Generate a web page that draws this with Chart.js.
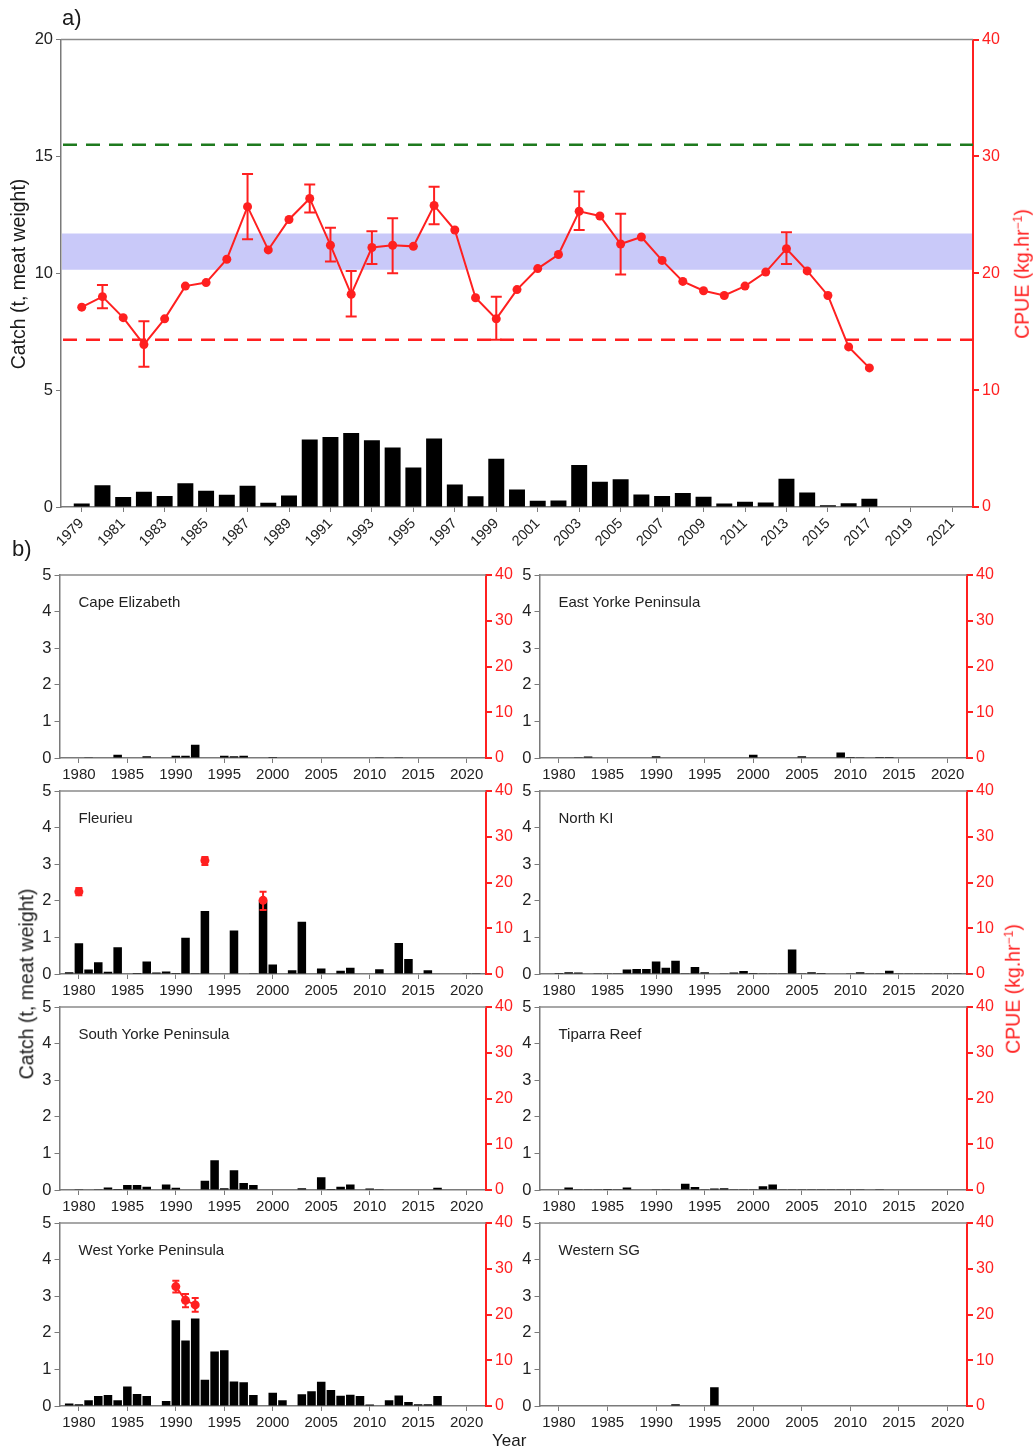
<!DOCTYPE html>
<html><head><meta charset="utf-8">
<script src="https://cdn.jsdelivr.net/npm/chart.js@4/dist/chart.umd.min.js"></script>
<style>
body{margin:0;background:#fff;width:1035px;height:1450px;position:relative;overflow:hidden;font-family:"Liberation Sans",Arial,sans-serif;}
canvas{position:absolute;}
.t{position:absolute;white-space:nowrap;color:#1a1a1a;line-height:1;}
.rot{transform:translate(-50%,-50%) rotate(-90deg);}
.red{color:#ff2020;}
.pt{position:absolute;white-space:nowrap;color:#222;font-size:15px;line-height:1;transform:translateY(-50%);}
</style></head><body>

<canvas id="top" width="1035" height="560" style="left:0;top:0"></canvas>
<canvas id="p0" width="520" height="228"></canvas>
<canvas id="p1" width="535" height="228"></canvas>
<canvas id="p2" width="520" height="228"></canvas>
<canvas id="p3" width="535" height="228"></canvas>
<canvas id="p4" width="520" height="228"></canvas>
<canvas id="p5" width="535" height="228"></canvas>
<canvas id="p6" width="520" height="228"></canvas>
<canvas id="p7" width="535" height="228"></canvas>

<div class="t" style="left:62px;top:7px;font-size:22px;">a)</div>
<div class="t" style="left:12px;top:538px;font-size:22px;">b)</div>
<div class="t rot" style="left:19px;top:274px;font-size:19.5px;">Catch (t, meat weight)</div>
<div class="t rot red" style="left:1022px;top:274px;font-size:19.5px;">CPUE (kg.hr<sup style="font-size:12px;vertical-align:7px">−1</sup>)</div>
<div class="t rot" style="left:27px;top:984px;font-size:19.5px;">Catch (t, meat weight)</div>
<div class="t rot red" style="left:1013px;top:989px;font-size:19.5px;">CPUE (kg.hr<sup style="font-size:12px;vertical-align:7px">−1</sup>)</div>
<div class="t" style="left:492px;top:1432px;font-size:17px;">Year</div>

<script>
// ---------------- DATA ----------------
const years = [];
for (let y = 1979; y <= 2021; y++) years.push(y);

const topTickYears = [1979,1981,1983,1985,1987,1989,1991,1993,1995,1997,1999,2001,2003,2005,2007,2009,2011,2013,2015,2017,2019,2021];
const panelTickYears = [1980,1985,1990,1995,2000,2005,2010,2015,2020];

// Total catch (t, meat weight), 1979-2021
const totalCatch = [
  0.15,0.93,0.43,0.65,0.47,1.02,0.69,0.52,0.91,0.18,
  0.49,2.89,3.00,3.17,2.86,2.55,1.69,2.93,0.96,0.46,
  2.06,0.75,0.27,0.28,1.80,1.08,1.19,0.53,0.47,0.60,
  0.44,0.15,0.22,0.19,1.21,0.62,0.07,0.16,0.35,0.02,
  0.02,0.02,0.02];
// Total CPUE (kg/hr), 1979-2021
const totalCpue = [
  17.1,18.0,16.2,13.9,16.1,18.9,19.2,21.2,25.7,22.0,
  24.6,26.4,22.4,18.2,22.2,22.4,22.3,25.8,23.7,17.9,
  16.1,18.6,20.4,21.6,25.3,24.9,22.5,23.1,21.1,19.3,
  18.5,18.1,18.9,20.1,22.1,20.2,18.1,13.7,11.9,null,
  null,null,null];
const totalCpueLo = [
  null,17.0,null,12.0,null,null,null,null,22.9,null,
  null,25.2,21.0,16.3,20.8,20.0,null,24.2,null,null,
  14.3,null,null,null,23.7,null,19.9,null,null,null,
  null,null,null,null,20.8,null,null,null,null,null,
  null,null,null];
const totalCpueHi = [
  null,19.0,null,15.9,null,null,null,null,28.5,null,
  null,27.6,23.9,20.2,23.6,24.7,null,27.4,null,null,
  18.0,null,null,null,27.0,null,25.1,null,null,null,
  null,null,null,null,23.5,null,null,null,null,null,
  null,null,null];

// Reference points (CPUE, kg/hr)
const targetRef = 31.0;
const limitRef = 14.3;
const bandLow = 20.3;
const bandHigh = 23.4;

// Regional catch, 1979-2021
const capeElizabethCatch = [
  0,0,0.01,0,0,0.09,0,0,0.05,0,
  0,0.06,0.06,0.36,0,0,0.06,0.05,0.06,0,
  0,0.03,0,0,0,0,0,0,0,0,
  0,0,0.02,0,0.01,0,0,0,0,0,
  0,0,0];
const eastYorkeCatch = [
  0,0,0,0.01,0.04,0,0,0,0,0,
  0,0.05,0,0,0,0,0,0,0,0,
  0,0.09,0,0,0,0,0.05,0,0,0,
  0.15,0.03,0.02,0,0.03,0.03,0,0,0,0,
  0,0,0];
const fleurieuCatch = [
  0.05,0.84,0.12,0.32,0.06,0.73,0,0.03,0.34,0.04,
  0.07,0.03,0.99,0.02,1.72,0,0,1.19,0,0.01,
  1.99,0.26,0,0.10,1.43,0,0.15,0,0.09,0.17,
  0,0,0.13,0,0.85,0.41,0,0.10,0,0,
  0,0.01,0.01];
const northKICatch = [
  0,0.03,0.05,0.04,0,0.02,0.02,0.02,0.12,0.14,
  0.14,0.34,0.17,0.36,0.02,0.19,0.05,0,0.02,0.04,
  0.08,0.03,0.01,0.01,0.01,0.67,0.01,0.05,0.03,0,
  0,0.02,0.05,0.02,0.01,0.09,0.01,0.01,0.01,0.01,
  0.01,0.01,0.01];
const southYorkeCatch = [
  0,0.02,0,0.01,0.07,0.03,0.14,0.14,0.09,0,
  0.15,0.06,0,0,0.25,0.81,0.05,0.54,0.19,0.14,
  0,0,0,0,0.05,0,0.35,0.03,0.09,0.15,
  0,0.04,0.02,0,0,0,0,0,0.06,0,
  0,0,0];
const tiparraCatch = [
  0,0,0.07,0.02,0.02,0.02,0.03,0.02,0.07,0,
  0,0.02,0.02,0,0.17,0.08,0.01,0.04,0.05,0.02,
  0.02,0.01,0.10,0.15,0.02,0.02,0.02,0.02,0.01,0.01,
  0.01,0.01,0.02,0,0.02,0,0,0,0,0,
  0,0,0];
const westYorkeCatch = [
  0.07,0.05,0.16,0.27,0.30,0.16,0.53,0.33,0.27,0,
  0.14,2.34,1.79,2.39,0.72,1.49,1.52,0.67,0.65,0.30,
  0,0.36,0.16,0,0.32,0.40,0.66,0.44,0.28,0.31,
  0.27,0.04,0,0.16,0.29,0.11,0.05,0.05,0.27,0,
  0,0,0];
const westernSGCatch = [
  0,0,0,0,0,0,0,0,0,0,
  0,0,0,0.05,0,0,0,0.51,0,0,
  0,0,0,0,0,0,0,0,0,0,
  0,0,0,0,0,0,0,0,0,0,
  0,0,0];

// Regional CPUE (kg/hr)
const fleurieuCpueYears = [1980,1993,1999];
const fleurieuCpue = [18.0,24.8,16.1];
const fleurieuCpueLo = [17.2,23.8,14.0];
const fleurieuCpueHi = [18.8,25.6,18.0];
const westYorkeCpueYears = [1990,1991,1992];
const westYorkeCpue = [26.1,23.1,22.1];
const westYorkeCpueLo = [24.8,21.6,20.6];
const westYorkeCpueHi = [27.4,24.5,23.6];

const regionNames = ["Cape Elizabeth","East Yorke Peninsula","Fleurieu","North KI","South Yorke Peninsula","Tiparra Reef","West Yorke Peninsula","Western SG"];

// ---------------- CHARTS ----------------
Chart.defaults.font.family = '"Liberation Sans", Arial, sans-serif';
const RED = '#ff2020';
const AXIS = '#7a7a7a';

function makeChart(canvasId, o) {
  const datasets = [{
    type: 'bar',
    data: years.map((y, i) => ({x: y, y: o.catchVals[i]})),
    backgroundColor: '#000',
    borderWidth: 0,
    barPercentage: o.barPct,
    categoryPercentage: 1,
    yAxisID: 'y',
    order: 2
  }];
  if (o.cpue) {
    datasets.push({
      type: 'line',
      data: o.cpueYears.map((y, i) => ({x: y, y: o.cpue[i]})),
      borderColor: RED,
      backgroundColor: RED,
      borderWidth: 2,
      pointRadius: o.pointR,
      pointBackgroundColor: RED,
      pointBorderWidth: 0,
      showLine: o.showLine,
      spanGaps: false,
      yAxisID: 'y2',
      order: 1
    });
  }
  const deco = {
    id: 'deco',
    beforeDatasetsDraw(chart) {
      const {ctx, chartArea: a, scales} = chart;
      const y2 = scales.y2;
      ctx.save();
      if (o.refs) {
        const yh = y2.getPixelForValue(bandHigh), yl = y2.getPixelForValue(bandLow);
        ctx.fillStyle = '#c9c9f9';
        ctx.fillRect(a.left + 1, yh, a.right - a.left - 2, yl - yh);
        ctx.lineWidth = 2.5;
        ctx.setLineDash([14, 9]);
        ctx.strokeStyle = '#1e7a1e';
        let yp = y2.getPixelForValue(targetRef);
        ctx.beginPath(); ctx.moveTo(a.left + 2, yp); ctx.lineTo(a.right, yp); ctx.stroke();
        ctx.strokeStyle = RED;
        yp = y2.getPixelForValue(limitRef);
        ctx.beginPath(); ctx.moveTo(a.left + 2, yp); ctx.lineTo(a.right, yp); ctx.stroke();
        ctx.setLineDash([]);
      }
      // top frame line
      ctx.strokeStyle = '#8a8a8a';
      ctx.lineWidth = 1.5;
      ctx.beginPath(); ctx.moveTo(a.left, a.top); ctx.lineTo(a.right, a.top); ctx.stroke();
      ctx.restore();
    },
    afterDatasetsDraw(chart) {
      if (!o.cpue) return;
      const {ctx, scales} = chart;
      ctx.save();
      ctx.strokeStyle = RED;
      ctx.lineWidth = 2;
      o.cpueYears.forEach((yr, i) => {
        const lo = o.lo[i], hi = o.hi[i];
        if (lo == null || hi == null) return;
        const x = scales.x.getPixelForValue(yr);
        const yl = scales.y2.getPixelForValue(lo), yh = scales.y2.getPixelForValue(hi);
        ctx.beginPath();
        ctx.moveTo(x, yl); ctx.lineTo(x, yh);
        ctx.moveTo(x - o.cap, yl); ctx.lineTo(x + o.cap, yl);
        ctx.moveTo(x - o.cap, yh); ctx.lineTo(x + o.cap, yh);
        ctx.stroke();
      });
      ctx.restore();
    }
  };
  return new Chart(document.getElementById(canvasId), {
    data: {datasets},
    plugins: [deco],
    options: {
      responsive: false,
      animation: false,
      devicePixelRatio: 1,
      layout: {padding: {top: o.padTop, left: 0, right: 0, bottom: 0}},
      plugins: {legend: {display: false}, tooltip: {enabled: false}},
      scales: {
        x: {
          type: 'linear', min: 1978, max: 2022, offset: false,
          afterBuildTicks: s => { s.ticks = o.xTicks.map(v => ({value: v})); },
          afterFit: s => { s.height = o.bottomH; },
          grid: {display: true, drawOnChartArea: false, drawTicks: true, tickLength: 5, color: AXIS, offset: false},
          border: {display: true, color: AXIS, width: 1.5},
          ticks: {autoSkip: false, maxRotation: o.rot, minRotation: o.rot, color: '#222', padding: 3,
                  font: {size: o.xFont}, callback: v => String(v)}
        },
        y: {
          position: 'left', min: 0, max: o.yMax,
          afterFit: s => { s.width = o.leftW; },
          grid: {drawOnChartArea: false, drawTicks: true, tickLength: 5, color: AXIS},
          border: {display: true, color: AXIS, width: 1.5},
          ticks: {stepSize: o.yStep, color: '#222', padding: 3, font: {size: o.yFont}}
        },
        y2: {
          position: 'right', min: 0, max: 40,
          afterFit: s => { s.width = o.rightW; },
          grid: {drawOnChartArea: false, drawTicks: true, tickLength: 6, color: RED, lineWidth: 2},
          border: {display: true, color: RED, width: 2},
          ticks: {stepSize: 10, color: RED, padding: 3, font: {size: o.y2Font}}
        }
      }
    }
  });
}

// Top panel (a)
makeChart('top', {
  catchVals: totalCatch,
  cpueYears: years, cpue: totalCpue, lo: totalCpueLo, hi: totalCpueHi,
  showLine: true, pointR: 4.5, cap: 5.5, refs: true,
  barPct: 0.77, xTicks: topTickYears, rot: 45,
  yMax: 20, yStep: 5,
  padTop: 39.5, leftW: 61, rightW: 62, bottomH: 53,
  xFont: 14.5, yFont: 16.5, y2Font: 16
});

// Regional panels (b)
const panelCatch = [capeElizabethCatch, eastYorkeCatch, fleurieuCatch, northKICatch,
                    southYorkeCatch, tiparraCatch, westYorkeCatch, westernSGCatch];
const panelCpue = {
  2: {years: fleurieuCpueYears, v: fleurieuCpue, lo: fleurieuCpueLo, hi: fleurieuCpueHi, line: false},
  6: {years: westYorkeCpueYears, v: westYorkeCpue, lo: westYorkeCpueLo, hi: westYorkeCpueHi, line: true}
};
const rowTops = [575, 791, 1006.5, 1222.5];
for (let i = 0; i < 8; i++) {
  const col = i % 2, row = Math.floor(i / 2);
  const cv = document.getElementById('p' + i);
  const canvasLeft = col === 0 ? 0 : 500;
  cv.style.left = canvasLeft + 'px';
  cv.style.top = (rowTops[row] - 15) + 'px';
  const c = panelCpue[i];
  makeChart('p' + i, {
    catchVals: panelCatch[i],
    cpueYears: c ? c.years : null, cpue: c ? c.v : null, lo: c ? c.lo : null, hi: c ? c.hi : null,
    showLine: c ? c.line : false, pointR: 4.5, cap: 3.5, refs: false,
    barPct: 0.88, xTicks: panelTickYears, rot: 0,
    yMax: 5, yStep: 1,
    padTop: 15, leftW: col === 0 ? 59.5 : 39.5, rightW: col === 0 ? 34 : 68, bottomH: 30,
    xFont: 15, yFont: 16.5, y2Font: 16
  });
  const lbl = document.createElement('div');
  lbl.className = 'pt';
  lbl.textContent = regionNames[i];
  lbl.style.left = (canvasLeft + (col === 0 ? 59.5 : 39.5) + 19) + 'px';
  lbl.style.top = (rowTops[row] + 26) + 'px';
  document.body.appendChild(lbl);
}
</script>
</body></html>
